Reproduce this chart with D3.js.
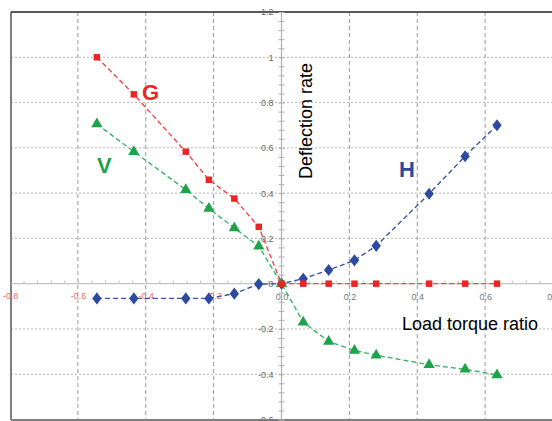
<!DOCTYPE html>
<html><head><meta charset="utf-8">
<script src="https://cdn.jsdelivr.net/npm/d3@7"></script>
<style>html,body{margin:0;padding:0;background:#fff;}svg{display:block;}</style>
</head><body>
<svg id="chart" width="552" height="421"></svg>
<script>
// ---- data ----
const xValues = [-0.544, -0.435, -0.282, -0.214, -0.139, -0.067, 0, 0.064, 0.139, 0.215, 0.279, 0.435, 0.541, 0.635];
const gValues = [1.0, 0.836, 0.583, 0.459, 0.376, 0.251, 0, 0, 0, 0, 0, 0, 0, 0];
const vValues = [0.705, 0.583, 0.415, 0.332, 0.246, 0.165, 0, -0.17, -0.255, -0.295, -0.316, -0.358, -0.378, -0.403];
const hValues = [-0.065, -0.065, -0.065, -0.065, -0.044, -0.002, 0, 0.022, 0.06, 0.103, 0.167, 0.397, 0.563, 0.700];
const yTicks = [1.2, 1, 0.8, 0.6, 0.4, 0.2, 0, -0.2, -0.4, -0.6];
const yTickLabels = ["1.2", "1", "0.8", "0.6", "0.4", "0.2", "0", "-0.2", "-0.4", "-0.6"];
const xTicksNeg = [-0.8, -0.6, -0.4, -0.2];
const xTicksNegLabels = ["-0.8", "-0.6", "-0.4", "-0.2"];
const xTicksPos = [0, 0.2, 0.4, 0.6, 0.8];
const xTicksPosLabels = ["0.0", "0.2", "0.4", "0.6", "0.8"];
const xGrid = [-0.6, -0.4, -0.2, 0.2, 0.4, 0.6];
const yGrid = [1, 0.8, 0.6, 0.4, 0.2, -0.2, -0.4];
const minorTicks = d3.range(-30, 31).map(i => i * 0.04).filter(v => Math.abs(v) <= 1.2);

const svg = d3.select("#chart");
const x = d3.scaleLinear().domain([-0.8, 0.8]).range([10, 553]);
const y = d3.scaleLinear().domain([-0.6, 1.2]).range([419.5, 12]);
const L = 11, R = 552, T = 12, B = 420;

// grid
svg.append("g").selectAll("line").data(yGrid).join("line")
  .attr("x1", L).attr("x2", R).attr("y1", d => y(d)).attr("y2", d => y(d))
  .attr("stroke", "#b8b8b8").attr("stroke-width", 1).attr("stroke-dasharray", "2,2");
svg.append("g").selectAll("line").data(xGrid).join("line")
  .attr("x1", d => x(d)).attr("x2", d => x(d)).attr("y1", T).attr("y2", B)
  .attr("stroke", "#9a9a9a").attr("stroke-width", 1).attr("stroke-dasharray", "4,3");

// borders
svg.append("line").attr("x1", L).attr("x2", L).attr("y1", T).attr("y2", B).attr("stroke", "#808080").attr("stroke-width", 2);
svg.append("line").attr("x1", L).attr("x2", R).attr("y1", B).attr("y2", B).attr("stroke", "#808080").attr("stroke-width", 2);
svg.append("line").attr("x1", L).attr("x2", R).attr("y1", T).attr("y2", T).attr("stroke", "#222").attr("stroke-width", 1.5);

// x axis line at y=0 with minor ticks
const xMinor = d3.axisTop(x).tickValues(minorTicks.filter(v => v > -0.8 && v < 0.8)).tickSize(3).tickFormat("");
const gx = svg.append("g").attr("transform", `translate(0,${y(0)})`).call(xMinor);
gx.select(".domain").remove();
gx.append("line").attr("x1", L).attr("x2", R).attr("stroke", "#c4c4c4").attr("stroke-width", 1.2);
gx.selectAll(".tick line").attr("stroke", "#c4c4c4");

// y axis at x=0 with minor ticks crossing
const yMinor = d3.axisLeft(y).tickValues(minorTicks.filter(v => v >= -0.6 && v <= 1.2)).tickSize(3).tickFormat("");
const gy = svg.append("g").attr("transform", `translate(${x(0)},0)`).call(yMinor);
gy.select(".domain").remove();
gy.selectAll(".tick line").attr("x1", -3).attr("x2", 3).attr("stroke", "#b0b0b0");
gy.append("line").attr("y1", T).attr("y2", B).attr("stroke", "#b0b0b0").attr("stroke-width", 1.2);

// y tick labels
const yLab = d3.axisLeft(y).tickValues(yTicks).tickSize(0).tickPadding(8)
  .tickFormat((d, i) => yTickLabels[i]);
const gyl = svg.append("g").attr("transform", `translate(${x(0)},0)`).call(yLab);
gyl.select(".domain").remove();
gyl.selectAll("text").attr("fill", "#666").style("font-family", "Liberation Sans, Arial, sans-serif").style("font-size", "9px");

// x tick labels
const xLabNeg = d3.axisBottom(x).tickValues(xTicksNeg).tickSize(0).tickPadding(9)
  .tickFormat((d, i) => xTicksNegLabels[i]);
const gxn = svg.append("g").attr("transform", `translate(0,${y(0)})`).call(xLabNeg);
gxn.select(".domain").remove();
gxn.selectAll("text").attr("fill", "#f26a6a").style("font-family", "Liberation Sans, Arial, sans-serif").style("font-size", "9px");
const xLabPos = d3.axisBottom(x).tickValues(xTicksPos).tickSize(0).tickPadding(10)
  .tickFormat((d, i) => xTicksPosLabels[i]);
const gxp = svg.append("g").attr("transform", `translate(0,${y(0)})`).call(xLabPos);
gxp.select(".domain").remove();
gxp.selectAll("text").attr("fill", "#777").style("font-family", "Liberation Sans, Arial, sans-serif").style("font-size", "9px");

// series
const series = [
  {name: "G", vals: gValues, line: "#f04848", mark: "#ee2424", sym: d3.symbolSquare, size: 42, sx: 1},
  {name: "V", vals: vValues, line: "#3cb46a", mark: "#1fa34a", sym: d3.symbolTriangle, size: 55, sx: 1},
  {name: "H", vals: hValues, line: "#3a56a8", mark: "#2d4b9e", sym: d3.symbolDiamond, size: 42, sx: 1.35}
];
const lineGen = d3.line().x(d => x(d[0])).y(d => y(d[1]));
const order = [series[2], series[1], series[0]];
order.forEach(s => {
  const pts = xValues.map((xv, i) => [xv, s.vals[i]]);
  svg.append("path").datum(pts).attr("d", lineGen).attr("fill", "none")
    .attr("stroke", s.line).attr("stroke-width", 1.4).attr("stroke-dasharray", "5,3");
});
order.forEach(s => {
  const pts = xValues.map((xv, i) => [xv, s.vals[i]]);
  svg.append("g").selectAll("path").data(pts).join("path")
    .attr("d", d3.symbol().type(s.sym).size(s.size))
    .attr("transform", d => `translate(${x(d[0])},${y(d[1])}) scale(${s.sx},1)`)
    .attr("fill", s.mark);
});

// labels
const font = "Liberation Sans, Arial, sans-serif";
svg.append("text").attr("x", 142).attr("y", 100).text("G").attr("fill", "#ee2424")
  .style("font-family", font).style("font-weight", "bold").style("font-size", "22px");
svg.append("text").attr("x", 97).attr("y", 173).text("V").attr("fill", "#1fa34a")
  .style("font-family", font).style("font-weight", "bold").style("font-size", "22px");
svg.append("text").attr("x", 399).attr("y", 177).text("H").attr("fill", "#2d4b9e")
  .style("font-family", font).style("font-weight", "bold").style("font-size", "22px");
svg.append("text").attr("transform", "translate(312,121) rotate(-90)").attr("text-anchor", "middle")
  .text("Deflection rate").attr("fill", "#000").style("font-family", font).style("font-size", "18px");
svg.append("text").attr("x", 402).attr("y", 330).text("Load torque ratio").attr("fill", "#000")
  .style("font-family", font).style("font-size", "18px");
</script>
</body></html>
